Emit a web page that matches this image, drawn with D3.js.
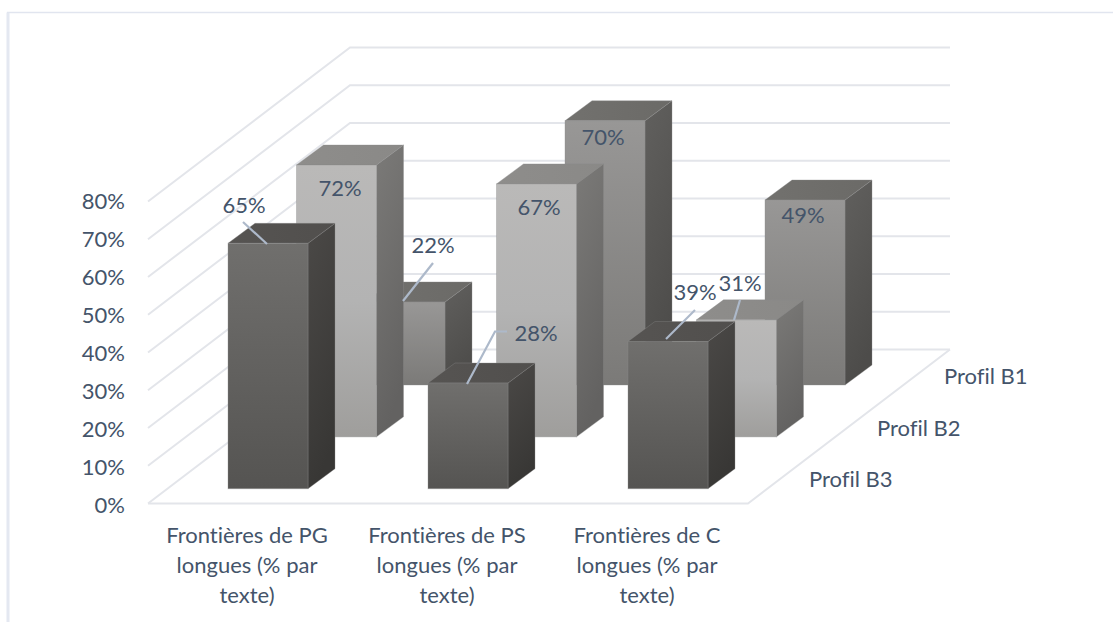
<!DOCTYPE html>
<html><head><meta charset="utf-8">
<script src="https://cdn.jsdelivr.net/npm/d3@7/dist/d3.min.js"></script>
<style>html,body{margin:0;padding:0;background:#fff}svg{display:block}text{font-family:Lato,"Open Sans",sans-serif;fill:#44546a;font-variant-ligatures:none}</style>
</head><body><div id="chart"></div>
<script>
const categories = [["Frontières de PG","longues (% par","texte)"],["Frontières de PS","longues (% par","texte)"],["Frontières de C","longues (% par","texte)"]];
const seriesNames = ["Profil B3","Profil B2","Profil B1"];
const profilB3 = [65,28,39];
const profilB2 = [72,67,31];
const profilB1 = [22,70,49];
const yTicks = [0,10,20,30,40,50,60,70,80];

const W=1113,H=622,FS=22;
const svg=d3.select("#chart").append("svg").attr("width",W).attr("height",H);
const defs=svg.append("defs");

// projection scales
const xS=d3.scaleLinear().domain([0,2]).range([228,628]);      // category -> front-left x of bar
const depthX=d3.scaleLinear().domain([0,2]).range([0,137]);    // series depth -> x shift
const depthY=d3.scaleLinear().domain([0,2]).range([0,-103.7]); // series depth -> y shift
const hS=d3.scaleLinear().domain([0,80]).range([0,302]);       // value -> height
const barW=80, capDx=27, capDy=-20, baseY=488.7;

// frame
svg.append("path").attr("d","M8,622V12.5").attr("fill","none").attr("stroke","#e4e8f1").attr("stroke-width",3);
svg.append("path").attr("d","M7,12.5H1113").attr("fill","none").attr("stroke","#e1e5ef").attr("stroke-width",1.6);

// floor and walls
const grid="#e3e5ea";
const fl={x:148,y:503.5}, bl={x:350,y:349.5}, br={x:950,y:349.5}, fr={x:748,y:503.5};
const g=svg.append("g").attr("fill","none").attr("stroke",grid).attr("stroke-width",2);
yTicks.forEach(t=>{
  const d=hS(t);
  g.append("path").attr("d",d3.line()([[fl.x,fl.y-d],[bl.x,bl.y-d],[br.x,br.y-d]]));
});
g.append("path").attr("d",d3.line()([[fl.x,fl.y],[fr.x,fr.y],[br.x,br.y]]));

// shading
const shades=[
 {face:["#706f6d","#555452"],side:["#4b4947","#383735"],top:["#565452","#514f4d"]},
 {face:["#bab9b8","#b3b3b3","#9f9e9c"],side:["#7b7a78","#636261"],top:["#8e8d8b","#8a8987"]},
 {face:["#989796","#7b7a78"],side:["#61605e","#4d4c4a"],top:["#72716e","#6b6a67"]}
];
function grad(id,stops,x2,y2){
  const lg=defs.append("linearGradient").attr("id",id).attr("x1",0).attr("y1",0).attr("x2",x2).attr("y2",y2);
  stops.forEach((c,i)=>lg.append("stop").attr("offset",i/(stops.length-1)).attr("stop-color",c));
}
shades.forEach((s,i)=>{grad("f"+i,s.face,0,1);grad("s"+i,s.side,0.25,1);grad("t"+i,s.top,1,0);});

const series=[profilB3,profilB2,profilB1];
const bars=svg.append("g");
[2,1,0].forEach(si=>{
  series[si].forEach((v,ci)=>{
    const x=xS(ci)+depthX(si), y0=baseY+depthY(si), y1=y0-hS(v);
    const G=bars.append("g").attr("stroke-width",1);
    G.append("path").attr("d",d3.line()([[x+barW,y1],[x+barW+capDx,y1+capDy],[x+barW+capDx,y0+capDy],[x+barW,y0]])+"Z")
      .attr("fill",`url(#s${si})`).attr("stroke","#8a8a8a").attr("stroke-opacity",.35);
    G.append("path").attr("d",d3.line()([[x,y1],[x+capDx,y1+capDy],[x+barW+capDx,y1+capDy],[x+barW,y1]])+"Z")
      .attr("fill",`url(#t${si})`).attr("stroke","#8a8a8a").attr("stroke-opacity",.35);
    G.append("rect").attr("x",x).attr("y",y1).attr("width",barW).attr("height",hS(v))
      .attr("fill",`url(#f${si})`).attr("stroke","#8a8a8a").attr("stroke-opacity",.35);
  });
});

// y axis labels
const axisY=d3.scaleLinear().domain([0,80]).range([505,201]);
svg.append("g").selectAll("text").data(yTicks).join("text")
  .attr("x",125).attr("y",d=>axisY(d)).attr("dy","0.35em").attr("text-anchor","end")
  .attr("font-size",FS).text(d=>d+"%");

// category labels
const catX=d3.scalePoint().domain([0,1,2]).range([247,647]);
categories.forEach((lines,i)=>{
  lines.forEach((l,j)=>svg.append("text").attr("x",catX(i)).attr("y",535+j*30).attr("dy","0.35em")
    .attr("text-anchor","middle").attr("font-size",FS).text(l));
});

// series labels
const serLabel=[[809,479],[877,428],[944,376]];
seriesNames.forEach((n,i)=>svg.append("text").attr("x",serLabel[i][0]).attr("y",serLabel[i][1]).attr("dy","0.35em").attr("font-size",FS).text(n));

// data labels with leaders (layout only: label centre + leader path, by series / category)
const labelLayout=[
 [{p:[244,205],l:[[243,222],[267,244]]},{p:[536,333],l:[[467,384],[495,331.5],[507,331.5]]},{p:[695,292],l:[[695,310],[666,339]]}],
 [{p:[340,188]},{p:[539,207]},{p:[740,283],l:[[740,300],[734,320]]}],
 [{p:[433,245],l:[[433,263],[403,301]]},{p:[603,137]},{p:[803,215]}]
];
series.forEach((vals,si)=>vals.forEach((v,ci)=>{
  const L=labelLayout[si][ci];
  if(L.l) svg.append("path").attr("d",d3.line()(L.l)).attr("fill","none").attr("stroke","#adb9ca").attr("stroke-width",2.2);
  svg.append("text").attr("x",L.p[0]).attr("y",L.p[1]).attr("dy","0.35em").attr("text-anchor","middle").attr("font-size",FS).text(v+"%");
}));
</script></body></html>
